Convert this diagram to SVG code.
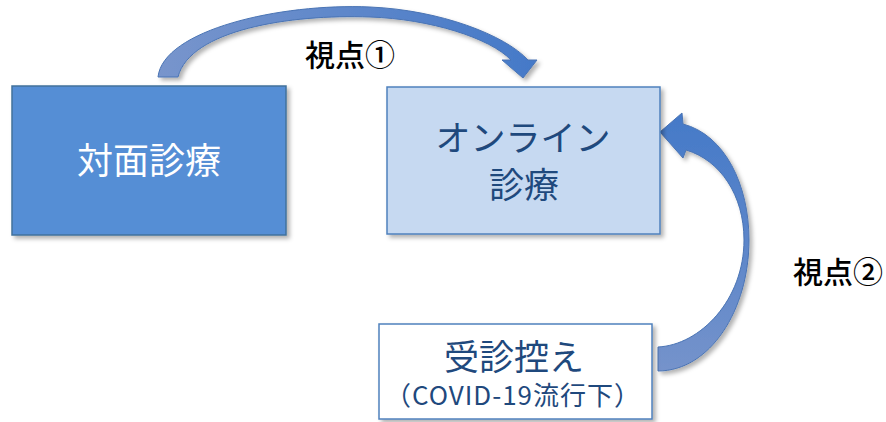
<svg xmlns="http://www.w3.org/2000/svg" width="886" height="422" viewBox="0 0 886 422">
  <defs>
    <filter id="sh" x="-10%" y="-10%" width="125%" height="130%">
      <feDropShadow dx="3" dy="3" stdDeviation="2" flood-color="#000" flood-opacity="0.3"/>
    </filter>
    <linearGradient id="g1" x1="158" y1="0" x2="537" y2="0" gradientUnits="userSpaceOnUse">
      <stop offset="0" stop-color="#7895cc"/>
      <stop offset="1" stop-color="#4479c8"/>
    </linearGradient>
    <linearGradient id="g2" x1="0" y1="372" x2="0" y2="113" gradientUnits="userSpaceOnUse">
      <stop offset="0" stop-color="#7593cb"/>
      <stop offset="1" stop-color="#4479c8"/>
    </linearGradient>
    <style>
      .box { stroke-width: 1.5; filter: url(#sh); }
      .t { font-family: "Noto Sans CJK JP", "Noto Sans", sans-serif; text-anchor: middle; }
      .lbl { font-family: "Noto Sans CJK JP", "Noto Sans", sans-serif; font-size: 30px; font-weight: 500; fill: #000; }
      .arr { stroke: #4a74b4; stroke-width: 1; filter: url(#sh); }
    </style>
  </defs>
  <rect width="886" height="422" fill="#fff"/>

  <g id="connectors">
    <path class="arr" fill="url(#g1)" d="M158,77 C 163,30 280,3 370,7 C 440,10 505,35 528,60 L 537,60 L 523,78 L 502,60 L 511,60 C 490,38 430,19 370,17 C 290,14 190,30 178,77 Z"/>
    <path class="arr" fill="url(#g2)" d="M658,347 C 700,345 744,300 744,240 C 744,195 720,160 686,150 L 683,158 L 660,132 L 682,113 L 683,124 C 725,135 749,185 749,240 C 749,310 710,371 658,371 Z"/>
  </g>

  <g id="node-taimen">
    <rect class="box" x="12" y="86" width="274" height="149" fill="#558ed5" stroke="#41719c"/>
    <text class="t" x="149" y="174" font-size="36" fill="#fff">対面診療</text>
  </g>

  <g id="node-online">
    <rect class="box" x="387" y="87" width="273" height="147" fill="#c6d9f1" stroke="#4f81bd"/>
    <text class="t" x="523" y="151" font-size="35" fill="#1f497d">オンライン</text>
    <text class="t" x="524" y="198" font-size="35" fill="#1f497d">診療</text>
  </g>

  <g id="node-hikae">
    <rect class="box" x="379" y="324" width="273" height="95" fill="#fff" stroke="#4f81bd"/>
    <text class="t" x="514" y="370" font-size="35" fill="#1f497d">受診控え</text>
    <text class="t" x="513" y="405" font-size="26" fill="#1f497d" letter-spacing="1">（COVID-19流行下）</text>
  </g>

  <g id="label-1">
    <text class="lbl" x="305" y="66">視点①</text>
  </g>
  <g id="label-2">
    <text class="lbl" x="793" y="283">視点②</text>
  </g>
</svg>
